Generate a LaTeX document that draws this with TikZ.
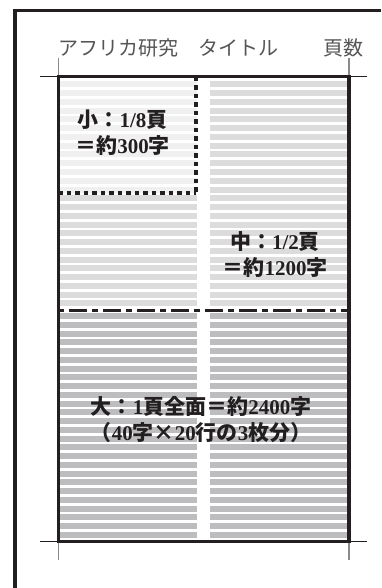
\documentclass[tikz,border=0pt]{standalone}
\usepackage{fontspec}
\setmainfont{Liberation Serif}
\newfontfamily\cjk{Noto Sans CJK JP}
\newcommand\J[1]{{\cjk #1}}
\definecolor{ink}{HTML}{231F20}
\definecolor{lightstripe}{HTML}{F0F0F0}
\definecolor{midstripe}{HTML}{DCDCDD}
\definecolor{darkstripe}{HTML}{BDBDC0}
\definecolor{headgray}{HTML}{555555}
\definecolor{markgray}{HTML}{8A8A8A}
\tikzset{
  frameline/.style={line width=3.3pt, draw=ink},
  pageborder/.style={line width=3.2pt, draw=ink},
  cropline/.style={line width=0.9pt, draw=ink},
  cropmark/.style={line width=1.2pt, draw=markgray},
  dotline/.style={line width=3.3pt, draw=ink, dash pattern=on 4.5pt off 4pt},
  dashdotline/.style={line width=3.3pt, draw=ink, dash pattern=on 6pt off 5pt on 18pt off 5pt},
  headtext/.style={font=\fontsize{20}{24}\selectfont\cjk, text=headgray, inner sep=0pt},
  sizelabel/.style={font=\fontsize{21}{26}\selectfont\bfseries, text=ink, align=center, inner sep=0pt},
}
\begin{document}
\begin{tikzpicture}[x=1pt,y=-1pt]
\useasboundingbox (0,0) rectangle (381,588);
% outer frame (left and top only)
\draw[frameline] (15,588) -- (15,10.7) -- (381,10.7);
% stripes, upper half
\foreach \i in {0,...,25}{
  \pgfmathsetmacro\ya{81.5+\i*8.75}
  \pgfmathsetmacro\yb{\ya+6}
  \ifnum\i<13
    \fill[lightstripe] (58,\ya) rectangle (196.7,\yb);
  \else
    \fill[midstripe] (58,\ya) rectangle (196.7,\yb);
  \fi
  \fill[midstripe] (210,\ya) rectangle (349,\yb);
}
% stripes, lower half
\foreach \i in {0,...,25}{
  \pgfmathsetmacro\ya{313+\i*8.75}
  \pgfmathsetmacro\yb{\ya+6}
  \fill[darkstripe] (58,\ya) rectangle (196.7,\yb);
  \fill[darkstripe] (210,\ya) rectangle (349,\yb);
}
% crop lines and marks
\coordinate (tl) at (58.3,76.7);
\coordinate (tr) at (349,76.7);
\coordinate (bl) at (58.3,541.5);
\coordinate (br) at (349,541.5);
\draw[cropline] (40,76.7) -- (367,76.7);
\draw[cropline] (40,541.5) -- (367,541.5);
\draw[cropmark] (58.3,58) -- (tl);
\draw[cropmark] (349,58) -- (tr);
\draw[cropmark] (bl) -- (58.3,560);
\draw[cropmark] (br) -- (349,560);
% page border
\draw[pageborder] (tl) rectangle (br);
% small region boundary
\coordinate (sc) at (196,193);
\draw[dotline] (196,76.7) -- (sc);
\draw[dotline] (58.3,193) -- (sc);
% medium region boundary
\draw[dashdotline] (58.3,310.7) -- (349,310.7);
% header
\node[headtext, anchor=base west] (title) at (58,55.5) {アフリカ研究　タイトル};
\node[headtext, anchor=base east] (pages) at (364,55.5) {頁数};
% labels
\node[sizelabel] (small) at (122.5,133) {\J{小：}1/8\J{頁}\\\J{＝約}300\J{字}};
\node[sizelabel] (medium) at (275,255) {\J{中：}1/2\J{頁}\\\J{＝約}1200\J{字}};
\node[sizelabel] (large) at (201,420) {\J{大：}1\J{頁全面＝約}2400\J{字}\\\J{（}40\J{字×}20\J{行の}3\J{枚分）}};
\end{tikzpicture}
\end{document}
